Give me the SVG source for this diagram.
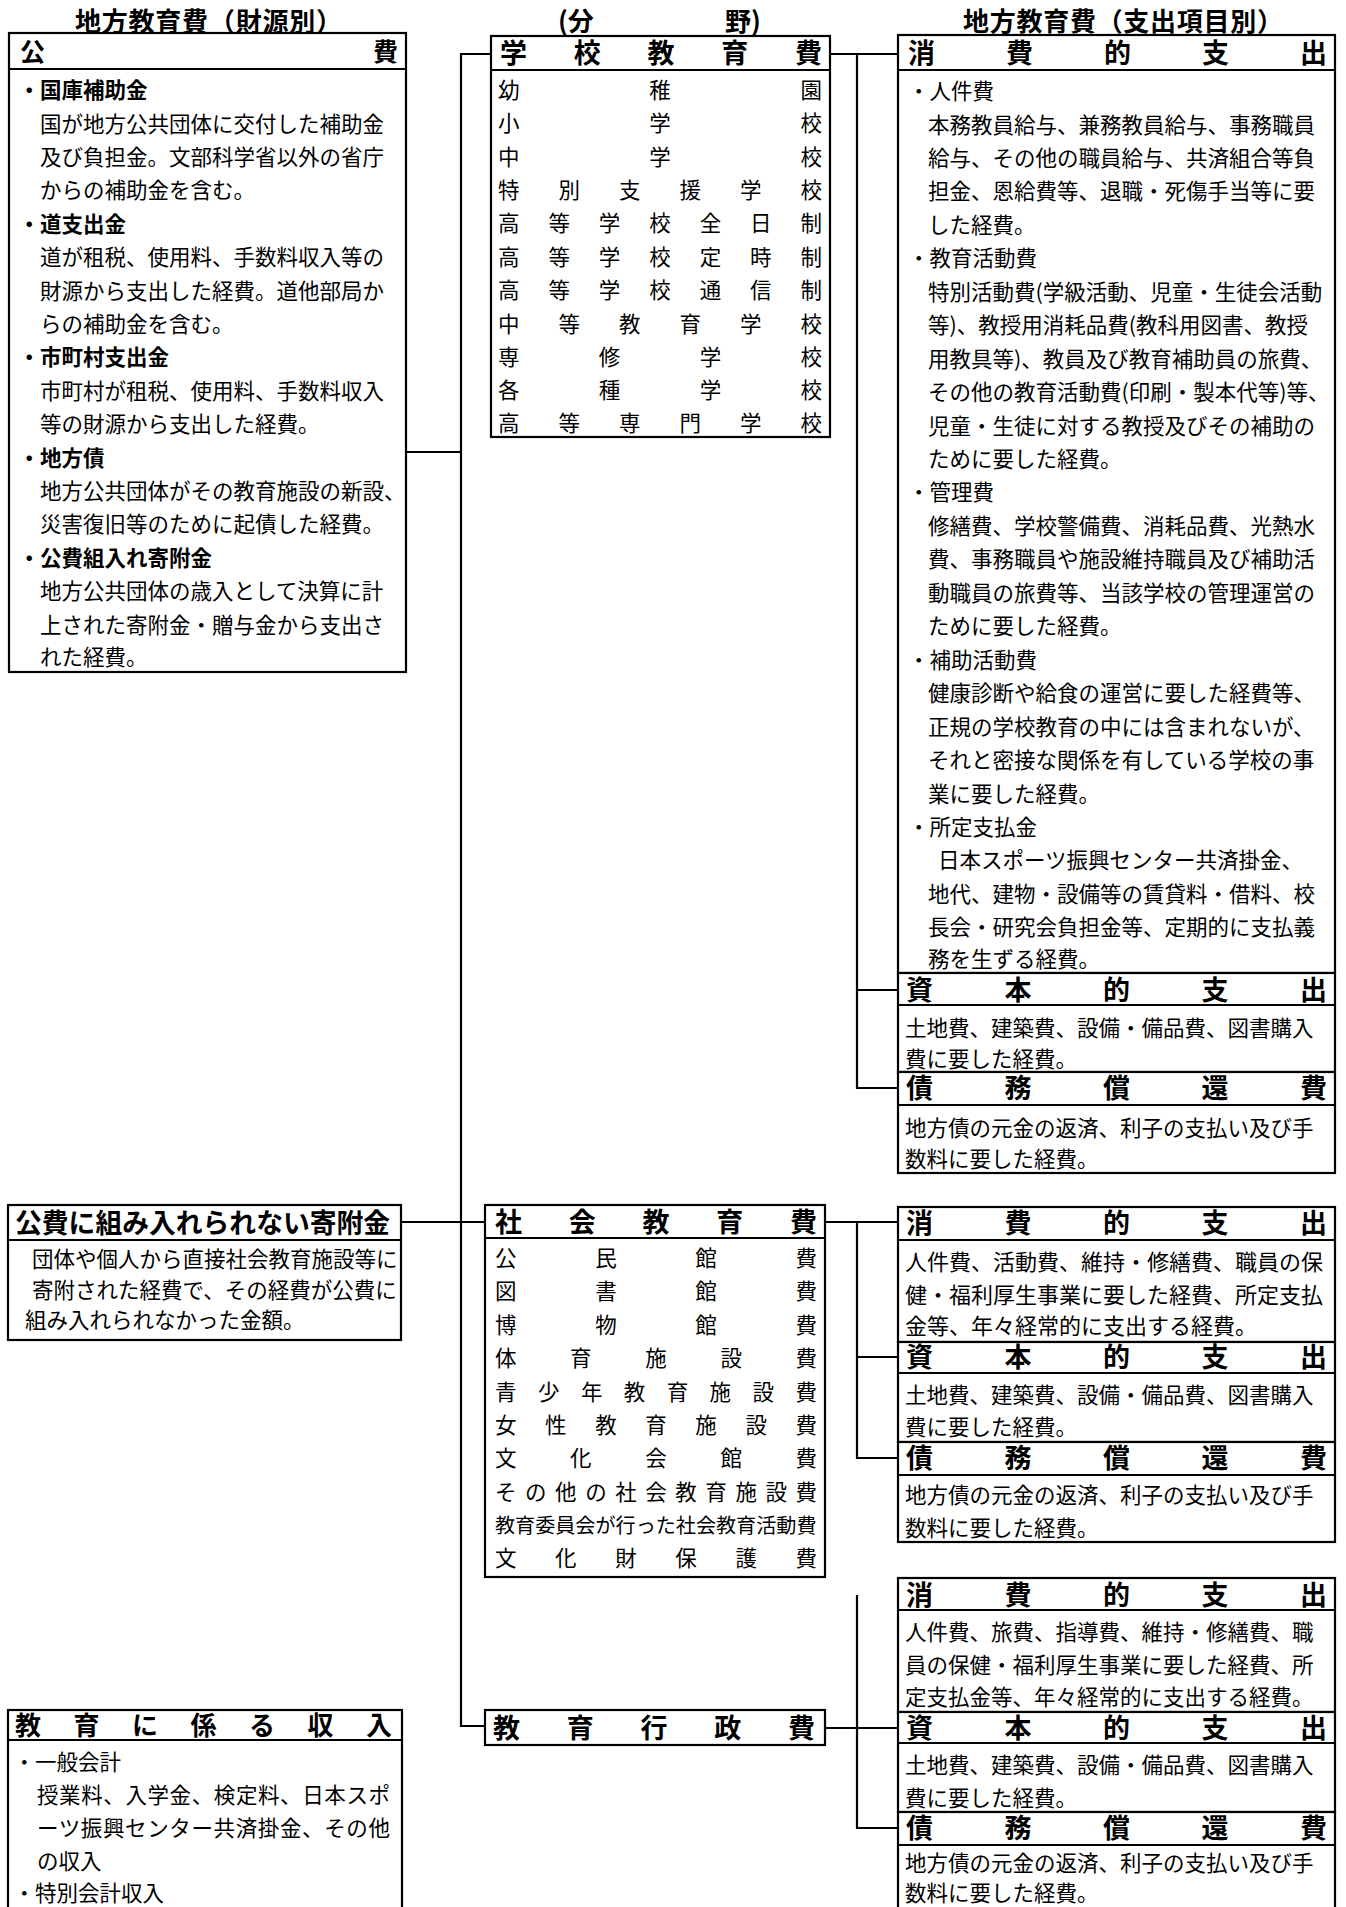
<svg xmlns="http://www.w3.org/2000/svg" width="1346" height="1907" viewBox="0 0 1346 1907">
<style>
text{font-family:"Noto Sans CJK JP","Noto Sans CJK SC",sans-serif;fill:#000}
.t{font-size:26px;font-weight:700}
.h{font-size:27px;font-weight:700}
.hl{font-size:25px;font-weight:700}
.b{font-size:21.5px}
.bb{font-size:21.5px;font-weight:700}
.bs{font-size:22px}
.box{fill:#fff;stroke:#000;stroke-width:2.2}
.ln{fill:none;stroke:#000;stroke-width:2.2}
</style>
<rect width="1346" height="1907" fill="#fff"/>

<g id="titles">
<text class="t" x="75" y="30.5" textLength="267" lengthAdjust="spacing">地方教育費（財源別）</text>
<text class="t" x="558" y="30.5">(分</text>
<text class="t" x="725" y="30.5">野)</text>
<text class="t" x="963" y="30.5" textLength="320" lengthAdjust="spacing">地方教育費（支出項目別）</text>
</g>

<g id="connectors">
<path class="ln" d="M491 54 H461 V1726 H485"/>
<path class="ln" d="M406 452 H461"/>
<path class="ln" d="M401 1222 H485"/>
<path class="ln" d="M830 54 H898 M857 54 V1088 H898 M857 990 H898"/>
<path class="ln" d="M825 1222 H898 M857 1222 V1458 H898 M857 1357 H898"/>
<path class="ln" d="M825 1728 H857 M857 1595 V1828 H898 M857 1728 H898"/>
</g>

<g id="kohi">
<rect class="box" x="9" y="33" width="397" height="639"/>
<path class="ln" d="M9 69 H406"/>
<text class="hl" x="20 373" y="60.5">公費</text>
<text class="bb" x="18.5" y="98">・国庫補助金</text>
<text class="b" x="40" y="131.6">国が地方公共団体に交付した補助金</text>
<text class="b" x="40" y="165">及び負担金。文部科学省以外の省庁</text>
<text class="b" x="40" y="198.4">からの補助金を含む。</text>
<text class="bb" x="18.5" y="231.8">・道支出金</text>
<text class="b" x="40" y="265.2">道が租税、使用料、手数料収入等の</text>
<text class="b" x="40" y="298.6">財源から支出した経費。道他部局か</text>
<text class="b" x="40" y="332">らの補助金を含む。</text>
<text class="bb" x="18.5" y="365.4">・市町村支出金</text>
<text class="b" x="40" y="398.8">市町村が租税、使用料、手数料収入</text>
<text class="b" x="40" y="432.2">等の財源から支出した経費。</text>
<text class="bb" x="18.5" y="465.6">・地方債</text>
<text class="b" x="40" y="499">地方公共団体がその教育施設の新設、</text>
<text class="b" x="40" y="532.4">災害復旧等のために起債した経費。</text>
<text class="bb" x="18.5" y="565.8">・公費組入れ寄附金</text>
<text class="b" x="40" y="599.2">地方公共団体の歳入として決算に計</text>
<text class="b" x="40" y="632.6">上された寄附金・贈与金から支出さ</text>
<text class="b" x="40" y="665">れた経費。</text>
</g>

<g id="kifukin">
<rect class="box" x="8" y="1205" width="393" height="135"/>
<path class="ln" d="M8 1240 H401"/>
<text class="h" x="15" y="1233" style="font-size:26.8px">公費に組み入れられない寄附金</text>
<text class="b" x="32" y="1267">団体や個人から直接社会教育施設等に</text>
<text class="b" x="32" y="1298">寄附された経費で、その経費が公費に</text>
<text class="b" x="25" y="1328">組み入れられなかった金額。</text>
</g>

<g id="shunyu">
<rect class="box" x="8" y="1710" width="394" height="210"/>
<path class="ln" d="M8 1740 H402"/>
<text class="h" x="15 73.5 132 190.5 249 307.5 366" y="1735" style="font-size:26px">教育に係る収入</text>
<text class="b" x="13.5" y="1770">・一般会計</text>
<text class="b" x="37" y="1803" textLength="353" lengthAdjust="spacing">授業料、入学金、検定料、日本スポ</text>
<text class="b" x="37" y="1836" textLength="353" lengthAdjust="spacing">ーツ振興センター共済掛金、その他</text>
<text class="b" x="37" y="1869">の収入</text>
<text class="b" x="13.5" y="1901">・特別会計収入</text>
</g>

<g id="gakko">
<rect class="box" x="491" y="36" width="339" height="401"/>
<path class="ln" d="M491 70 H830"/>
<text class="h" x="500 573.75 647.5 721.25 795" y="63">学校教育費</text>
<text class="b" x="498 649.25 800.5" y="98">幼稚園</text>
<text class="b" x="498 649.25 800.5" y="131.4">小学校</text>
<text class="b" x="498 649.25 800.5" y="164.7">中学校</text>
<text class="b" x="498 558.5 619 679.5 740 800.5" y="198">特別支援学校</text>
<text class="b" x="498 548.4 598.8 649.3 699.7 750.1 800.5" y="231.4">高等学校全日制</text>
<text class="b" x="498 548.4 598.8 649.3 699.7 750.1 800.5" y="264.8">高等学校定時制</text>
<text class="b" x="498 548.4 598.8 649.3 699.7 750.1 800.5" y="298.1">高等学校通信制</text>
<text class="b" x="498 558.5 619 679.5 740 800.5" y="331.5">中等教育学校</text>
<text class="b" x="498 598.8 699.7 800.5" y="364.8">専修学校</text>
<text class="b" x="498 598.8 699.7 800.5" y="398.2">各種学校</text>
<text class="b" x="498 558.5 619 679.5 740 800.5" y="431">高等専門学校</text>
</g>

<g id="shakai">
<rect class="box" x="485" y="1205" width="340" height="372"/>
<path class="ln" d="M485 1238 H825"/>
<text class="h" x="495 568.75 642.5 716.25 790" y="1232">社会教育費</text>
<text class="b" x="495 595.2 695.3 795.5" y="1266">公民館費</text>
<text class="b" x="495 595.2 695.3 795.5" y="1299.4">図書館費</text>
<text class="b" x="495 595.2 695.3 795.5" y="1332.8">博物館費</text>
<text class="b" x="495 570.1 645.3 720.4 795.5" y="1366.2">体育施設費</text>
<text class="b" x="495 537.9 580.9 623.8 666.7 709.6 752.6 795.5" y="1399.6">青少年教育施設費</text>
<text class="b" x="495 545.1 595.2 645.3 695.3 745.4 795.5" y="1433">女性教育施設費</text>
<text class="b" x="495 570.1 645.3 720.4 795.5" y="1466.4">文化会館費</text>
<text class="b" x="495 525.05 555.1 585.15 615.2 645.25 675.3 705.35 735.4 765.45 795.5" y="1499.8">その他の社会教育施設費</text>
<text class="b" x="495" y="1533.2" style="font-size:20.1px">教育委員会が行った社会教育活動費</text>
<text class="b" x="495 555.1 615.2 675.3 735.4 795.5" y="1566">文化財保護費</text>
</g>

<g id="gyosei">
<rect class="box" x="485" y="1710" width="340" height="35"/>
<text class="h" x="493 566.75 640.5 714.25 788" y="1738">教育行政費</text>
</g>

<g id="gakko-shohi">
<rect class="box" x="898" y="35" width="437" height="938"/>
<path class="ln" d="M898 70 H1335"/>
<text class="h" x="908 1006 1104 1202 1300" y="63">消費的支出</text>
<text class="b" x="908" y="99">・人件費</text>
<text class="b" x="928" y="132.5">本務教員給与、兼務教員給与、事務職員</text>
<text class="b" x="928" y="165.9">給与、その他の職員給与、共済組合等負</text>
<text class="b" x="928" y="199.4">担金、恩給費等、退職・死傷手当等に要</text>
<text class="b" x="928" y="232.8">した経費。</text>
<text class="b" x="908" y="266.3">・教育活動費</text>
<text class="b" x="928" y="299.7">特別活動費(学級活動、児童・生徒会活動</text>
<text class="b" x="928" y="333.2">等)、教授用消耗品費(教科用図書、教授</text>
<text class="b" x="928" y="366.6">用教具等)、教員及び教育補助員の旅費、</text>
<text class="b" x="928" y="400">その他の教育活動費(印刷・製本代等)等、</text>
<text class="b" x="928" y="433.5">児童・生徒に対する教授及びその補助の</text>
<text class="b" x="928" y="467">ために要した経費。</text>
<text class="b" x="908" y="500.4">・管理費</text>
<text class="b" x="928" y="533.9">修繕費、学校警備費、消耗品費、光熱水</text>
<text class="b" x="928" y="567.3">費、事務職員や施設維持職員及び補助活</text>
<text class="b" x="928" y="600.8">動職員の旅費等、当該学校の管理運営の</text>
<text class="b" x="928" y="634.2">ために要した経費。</text>
<text class="b" x="908" y="667.7">・補助活動費</text>
<text class="b" x="928" y="701.1">健康診断や給食の運営に要した経費等、</text>
<text class="b" x="928" y="734.6">正規の学校教育の中には含まれないが、</text>
<text class="b" x="928" y="768">それと密接な関係を有している学校の事</text>
<text class="b" x="928" y="801.5">業に要した経費。</text>
<text class="b" x="908" y="834.9">・所定支払金</text>
<text class="b" x="938" y="868.4">日本スポーツ振興センター共済掛金、</text>
<text class="b" x="928" y="901.8">地代、建物・設備等の賃貸料・借料、校</text>
<text class="b" x="928" y="935.3">長会・研究会負担金等、定期的に支払義</text>
<text class="b" x="928" y="966.5">務を生ずる経費。</text>
</g>

<g id="gakko-shihon">
<rect class="box" x="898" y="973" width="437" height="99"/>
<path class="ln" d="M898 1005 H1335"/>
<text class="h" x="906 1004.5 1103 1201.5 1300" y="1000">資本的支出</text>
<text class="b" x="905" y="1036">土地費、建築費、設備・備品費、図書購入</text>
<text class="b" x="905" y="1067">費に要した経費。</text>
</g>

<g id="gakko-saimu">
<rect class="box" x="898" y="1072" width="437" height="101"/>
<path class="ln" d="M898 1105 H1335"/>
<text class="h" x="906 1004.5 1103 1201.5 1300" y="1098">債務償還費</text>
<text class="b" x="905" y="1136">地方債の元金の返済、利子の支払い及び手</text>
<text class="b" x="905" y="1167">数料に要した経費。</text>
</g>

<g id="shakai-shohi">
<rect class="box" x="898" y="1207" width="437" height="135"/>
<path class="ln" d="M898 1240 H1335"/>
<text class="h" x="906 1004.5 1103 1201.5 1300" y="1233">消費的支出</text>
<text class="bs" x="905" y="1270">人件費、活動費、維持・修繕費、職員の保</text>
<text class="bs" x="905" y="1303">健・福利厚生事業に要した経費、所定支払</text>
<text class="bs" x="905" y="1334">金等、年々経常的に支出する経費。</text>
</g>

<g id="shakai-shihon">
<rect class="box" x="898" y="1342" width="437" height="100"/>
<path class="ln" d="M898 1373 H1335"/>
<text class="h" x="906 1004.5 1103 1201.5 1300" y="1367">資本的支出</text>
<text class="b" x="905" y="1403">土地費、建築費、設備・備品費、図書購入</text>
<text class="b" x="905" y="1435">費に要した経費。</text>
</g>

<g id="shakai-saimu">
<rect class="box" x="898" y="1442" width="437" height="100"/>
<path class="ln" d="M898 1475 H1335"/>
<text class="h" x="906 1004.5 1103 1201.5 1300" y="1468">債務償還費</text>
<text class="b" x="905" y="1503">地方債の元金の返済、利子の支払い及び手</text>
<text class="b" x="905" y="1536">数料に要した経費。</text>
</g>

<g id="gyosei-shohi">
<rect class="box" x="898" y="1578" width="437" height="134"/>
<path class="ln" d="M898 1610 H1335"/>
<text class="h" x="906 1004.5 1103 1201.5 1300" y="1605">消費的支出</text>
<text class="b" x="905" y="1640">人件費、旅費、指導費、維持・修繕費、職</text>
<text class="b" x="905" y="1673">員の保健・福利厚生事業に要した経費、所</text>
<text class="b" x="905" y="1705">定支払金等、年々経常的に支出する経費。</text>
</g>

<g id="gyosei-shihon">
<rect class="box" x="898" y="1712" width="437" height="100"/>
<path class="ln" d="M898 1743 H1335"/>
<text class="h" x="906 1004.5 1103 1201.5 1300" y="1738">資本的支出</text>
<text class="b" x="905" y="1773">土地費、建築費、設備・備品費、図書購入</text>
<text class="b" x="905" y="1806">費に要した経費。</text>
</g>

<g id="gyosei-saimu">
<rect class="box" x="898" y="1812" width="437" height="110"/>
<path class="ln" d="M898 1845 H1335"/>
<text class="h" x="906 1004.5 1103 1201.5 1300" y="1838">債務償還費</text>
<text class="b" x="905" y="1871">地方債の元金の返済、利子の支払い及び手</text>
<text class="b" x="905" y="1901">数料に要した経費。</text>
</g>
</svg>
